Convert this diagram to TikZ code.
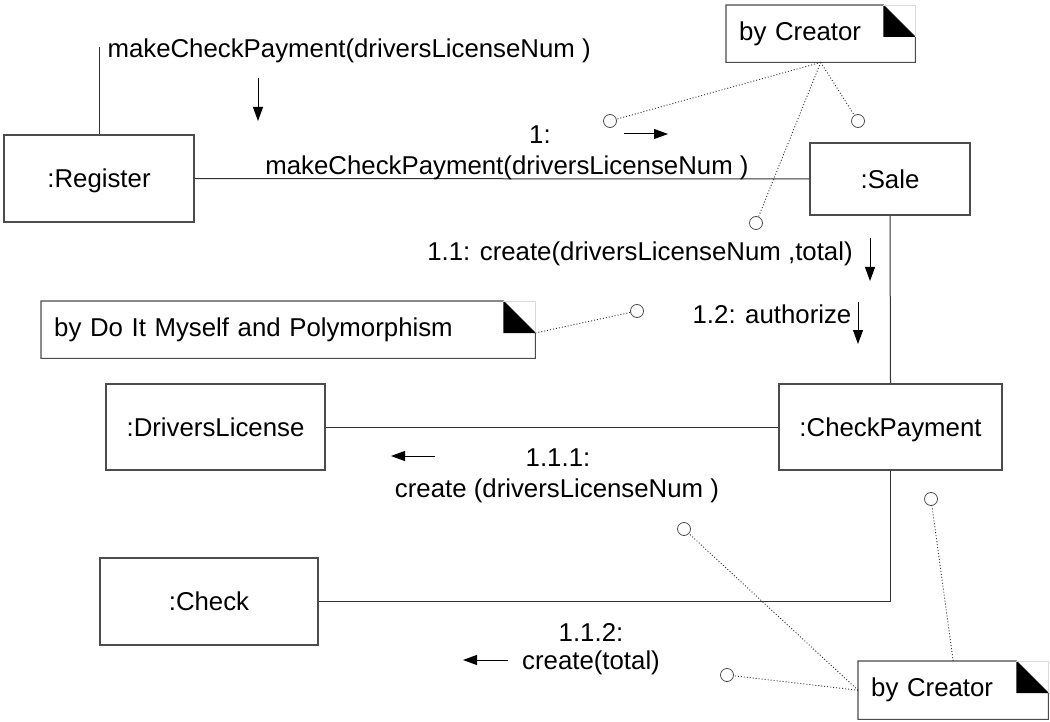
\documentclass[tikz,border=0pt]{standalone}
\usepackage{fontspec}
\setmainfont{Liberation Sans}
\usetikzlibrary{arrows.meta}
\newcommand\notefold[1]{%
  \draw[notedraw] (#1.north west) -- ([xshift=-32pt]#1.north east) -- ([yshift=-32pt]#1.north east) -- (#1.south east) -- (#1.south west) -- cycle;
  \fill ([xshift=-32pt]#1.north east) -- ([yshift=-32pt]#1.north east) -- ([xshift=-32pt,yshift=-32pt]#1.north east) -- cycle;
  \draw[black!15, line width=0.8pt] ([xshift=-32pt]#1.north east) -- (#1.north east) -- ([yshift=-32pt]#1.north east);}
\begin{document}
\begin{tikzpicture}[x=1pt,y=-1pt,
  every node/.style={font=\fontsize{25.8}{30}\selectfont},
  obj/.style={draw=black!70, line width=1.1pt, rectangle, inner sep=0pt, text depth=0pt},
  notebox/.style={rectangle, anchor=north west, inner xsep=13pt, inner ysep=0pt, align=left},
  notedraw/.style={draw=black!70, line width=1.1pt},
  link/.style={draw=black!80, line width=1pt},
  msg/.style={line width=1pt, -{Triangle[length=14pt,width=10pt]}},
  dotline/.style={draw=black!80, line width=0.9pt, dash pattern=on 1pt off 2pt},
  pinc/.style={circle, draw=black!70, line width=0.8pt, minimum size=13pt, inner sep=0pt}]
\useasboundingbox (0,0) rectangle (1050,722);

% objects
\node[obj, minimum width=190pt, minimum height=87pt] (reg) at (99,178.5) {:Register};
\node[obj, minimum width=160pt, minimum height=72pt] (sale) at (890,179) {:Sale};
\node[obj, minimum width=219pt, minimum height=86pt] (dl) at (215.5,427) {:DriversLicense};
\node[obj, minimum width=223pt, minimum height=86pt] (cp) at (890.5,427) {:CheckPayment};
\node[obj, minimum width=218pt, minimum height=87pt] (chk) at (209,601.5) {:Check};

% links
\coordinate (regtop) at (99,47);
\draw[link] (reg.north) -- (regtop);
\draw[link] (reg.east) -- (sale.west);
\draw[link] (sale.south) -- (cp.north);
\draw[link] (dl.east) -- (cp.west);
\draw[link] (cp.south) |- (chk.east);

% message labels
\node[anchor=west] (m0) at (104,51) {makeCheckPayment(driversLicenseNum )};
\node (m1a) at (540,135) {1:};
\node (m1b) at (507,168) {makeCheckPayment(driversLicenseNum )};
\node (m11) at (640,254) {1.1: create(driversLicenseNum ,total)};
\node (m12) at (772,314) {1.2: authorize};
\node (m111a) at (558,458) {1.1.1:};
\node (m111b) at (557,491) {create (driversLicenseNum )};
\node (m112a) at (591,632) {1.1.2:};
\node (m112b) at (591,663) {create(total)};

% message arrows
\coordinate (a0s) at (258,78);   \coordinate (a0e) at (258,121);
\coordinate (a1s) at (624,134);  \coordinate (a1e) at (668,134);
\coordinate (a2s) at (870,238);  \coordinate (a2e) at (870,281);
\coordinate (a3s) at (858,302);  \coordinate (a3e) at (858,344);
\coordinate (a4s) at (435,456);  \coordinate (a4e) at (391,456);
\coordinate (a5s) at (508,660);  \coordinate (a5e) at (463,660);
\draw[msg] (a0s) -- (a0e);
\draw[msg] (a1s) -- (a1e);
\draw[msg] (a2s) -- (a2e);
\draw[msg] (a3s) -- (a3e);
\draw[msg] (a4s) -- (a4e);
\draw[msg] (a5s) -- (a5e);

% notes
\node[notebox, minimum width=189pt, minimum height=57pt, text width=163pt] (n1) at (726,5) {by Creator};
\node[notebox, minimum width=494pt, minimum height=57pt, text width=468pt] (n2) at (41,301) {by Do It Myself and Polymorphism};
\node[notebox, minimum width=190pt, minimum height=58pt, text width=164pt] (n3) at (858,661) {by Creator};
\notefold{n1}
\notefold{n2}
\notefold{n3}
\coordinate (n2fold) at ([yshift=-32pt]n2.north east);

% pins
\node[pinc] (c1) at (610,121) {};
\node[pinc] (c2) at (858,121) {};
\node[pinc] (c3) at (756,223) {};
\node[pinc] (c4) at (637,311) {};
\node[pinc] (c5) at (684,529) {};
\node[pinc] (c6) at (727,675) {};
\node[pinc] (c7) at (931,499) {};

\draw[dotline] (n1.south) -- (c1);
\draw[dotline] (n1.south) -- (c2);
\draw[dotline] (n1.south) -- (c3);
\draw[dotline] (n2fold) -- (c4);
\draw[dotline] (n3.west) -- (c5);
\draw[dotline] (n3.west) -- (c6);
\draw[dotline] (n3.north) -- (c7);
\end{tikzpicture}
\end{document}
